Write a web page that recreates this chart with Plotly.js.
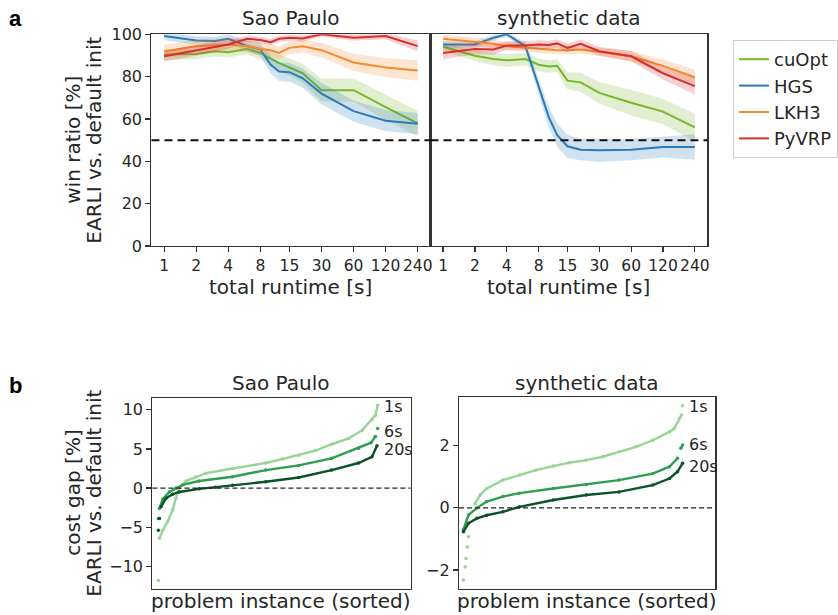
<!DOCTYPE html>
<html>
<head>
<meta charset="utf-8">
<script src="https://cdn.plot.ly/plotly-3.0.1.min.js"></script>
<style>html,body{margin:0;padding:0;background:#fff;}#chart{width:838px;height:615px;}</style>
</head>
<body>
<div id="chart"></div>
<script>
// ---------- Panel a: win ratio vs total runtime ----------
const runtimes = [1, 2, 3, 4, 6, 8, 10, 12, 15, 20, 30, 60, 120, 240];
const tickRuntimes = [1, 2, 4, 8, 15, 30, 60, 120, 240];
const solvers = ["cuOpt", "HGS", "LKH3", "PyVRP"];

// Sao Paulo means and band half-widths
const spCuOpt    = [90.4, 90.7, 92.0, 91.5, 93.1, 91.2, 88.5, 86.4, 84.3, 81.6, 73.6, 73.6, 65.6, 57.9];
const spCuOptErr = [2.5, 2.5, 2.5, 2.5, 2.5, 3, 3.5, 4, 4, 4.5, 5.5, 5.5, 6, 6];
const spHGS      = [99.2, 97.1, 96.8, 97.9, 94.5, 92.8, 85.6, 82.4, 82.1, 79.2, 72.0, 63.7, 59.2, 57.8];
const spHGSErr   = [2, 2, 2, 2, 2.5, 3, 4, 4.5, 4.5, 4.5, 5, 5, 5, 5];
const spLKH3     = [92.0, 94.4, 94.8, 95.2, 94.4, 93.1, 92.5, 91.2, 93.6, 94.4, 92.5, 86.7, 84.3, 82.9];
const spLKH3Err  = [3, 3, 3, 3, 3, 3, 3, 3, 3, 3, 3.5, 4, 4.5, 4.8];
const spPyVRP    = [89.6, 92.5, 94.0, 95.2, 97.9, 97.3, 96.3, 97.9, 98.4, 98.0, 100, 98.4, 99.2, 94.4];
const spPyVRPErr = [2.5, 2.5, 2.5, 2, 1.5, 1.5, 1.5, 1.5, 1.5, 1.5, 1, 1.5, 1.5, 2.5];

// Synthetic data means and band half-widths
const syCuOpt    = [94.1, 89.9, 88.3, 87.7, 88.3, 85.6, 84.8, 85.1, 78.1, 77.3, 72.3, 67.7, 63.5, 56.0];
const syCuOptErr = [2, 2.5, 3, 3, 3, 3, 3, 3, 4, 4.5, 5, 6, 6, 6.5];
const syHGS      = [95.2, 95.2, 98.4, 100, 94.4, 75.2, 60.8, 52.4, 47.1, 45.5, 45.2, 45.5, 46.8, 46.8];
const syHGSErr   = [1.5, 1.5, 1.5, 1, 2, 4, 5, 5.5, 5.5, 5, 5.5, 5, 5, 6];
const syLKH3     = [97.9, 96.3, 95.5, 94.4, 93.6, 93.2, 92.8, 92.5, 92.5, 92.8, 91.7, 89.6, 85.1, 79.7];
const syLKH3Err  = [2, 2, 2, 2, 2, 2, 2, 2, 2, 2, 2, 2.5, 3, 3.5];
const syPyVRP    = [91.2, 93.1, 92.8, 94.7, 94.7, 95.2, 95.0, 95.7, 93.6, 95.5, 92.0, 89.6, 81.6, 75.5];
const syPyVRPErr = [3, 2.5, 2.5, 2, 2, 2, 2, 2, 2, 2, 2, 2.5, 3, 4];

const solverColors = ["#76b82a", "#2b7bba", "#f58a2c", "#d62f2f"];
const solverFills  = ["rgba(118,184,42,0.22)", "rgba(43,123,186,0.22)", "rgba(245,138,44,0.22)", "rgba(214,47,47,0.22)"];

// ---------- Panel b: sorted cost gap (null = visible gap between isolated points) ----------
const budgetLabels = ["1s", "6s", "20s"];
const budgetColors = ["#98d594", "#2e9e52", "#0b5227"];

const spRank1  = [0, 0.003, 0.005, 0.02, 0.042, 0.065, 0.08, 0.095, 0.126, 0.17, 0.217, 0.338, 0.49, 0.565, 0.64, 0.717, 0.79, 0.868, 0.93, 0.974, 0.99, 1.0];
const spGap1   = [-11.8, null, -6.4, -5.4, -4.3, -2.8, -1.3, 0.0, 0.9, 1.4, 1.9, 2.5, 3.2, 3.7, 4.2, 4.8, 5.6, 6.35, 7.4, 8.7, 9.3, 10.6];
const spRank6  = [0, 0.003, 0.005, 0.02, 0.05, 0.08, 0.11, 0.186, 0.338, 0.49, 0.64, 0.79, 0.913, 0.97, 0.99, 0.995, 1.0];
const spGap6   = [-3.9, null, -2.6, -1.4, -0.5, 0.0, 0.4, 0.9, 1.45, 2.3, 2.9, 3.8, 5.1, 5.8, 6.6, null, 7.6];
const spRank20 = [0, 0.002, 0.005, 0.008, 0.012, 0.035, 0.065, 0.095, 0.186, 0.26, 0.338, 0.49, 0.64, 0.79, 0.913, 0.974, 0.997];
const spGap20  = [-5.4, null, -3.9, null, -2.4, -1.3, -0.8, -0.5, -0.1, 0.1, 0.35, 0.8, 1.35, 2.3, 3.2, 4.0, 5.4];

const syRank1  = [0, 0.004, 0.008, 0.01, 0.012, 0.015, 0.018, 0.02, 0.023, 0.04, 0.053, 0.076, 0.106, 0.18, 0.256, 0.33, 0.41, 0.485, 0.56, 0.636, 0.71, 0.788, 0.864, 0.94, 0.962, 0.985, 0.995, 0.997, 1.0];
const syGap1   = [-2.32, null, -1.9, null, -1.63, null, -1.26, null, -0.93, null, 0.13, 0.41, 0.62, 0.89, 1.05, 1.21, 1.34, 1.45, 1.53, 1.64, 1.8, 1.96, 2.17, 2.44, 2.55, 2.87, 2.98, null, 3.28];
const syRank6  = [0, 0.023, 0.061, 0.106, 0.18, 0.256, 0.41, 0.56, 0.71, 0.864, 0.94, 0.977, 0.985, 0.992, 1.0];
const syGap6   = [-0.7, -0.23, -0.01, 0.2, 0.36, 0.47, 0.62, 0.75, 0.89, 1.1, 1.32, 1.59, null, 1.91, 2.02];
const syRank20 = [0, 0.023, 0.061, 0.106, 0.18, 0.256, 0.41, 0.56, 0.71, 0.864, 0.94, 0.977, 1.0];
const syGap20  = [-0.77, -0.5, -0.34, -0.24, -0.13, 0.03, 0.25, 0.41, 0.51, 0.73, 0.94, 1.16, 1.43];

// label positions (value at which the budget label is written)
const spLabelY = [10.4, 7.2, 4.9];
const syLabelY = [3.25, 2.02, 1.34];

// ---------- build traces ----------
const FONT = "DejaVu Sans, Verdana, sans-serif";
const TXT = "#262626";
const traces = [];

function addSolver(xa, ya, means, errs, i, showLeg) {
  const lo = means.map((m, k) => m - errs[k]);
  const hi = means.map((m, k) => m + errs[k]);
  traces.push({x: runtimes, y: lo, xaxis: xa, yaxis: ya, mode: "lines", line: {width: 0, color: solverColors[i]},
               hoverinfo: "skip", showlegend: false});
  traces.push({x: runtimes, y: hi, xaxis: xa, yaxis: ya, mode: "lines", line: {width: 0, color: solverColors[i]},
               fill: "tonexty", fillcolor: solverFills[i], hoverinfo: "skip", showlegend: false});
  traces.push({x: runtimes, y: means, xaxis: xa, yaxis: ya, mode: "lines", name: solvers[i],
               line: {width: 2, color: solverColors[i]}, showlegend: showLeg, legendrank: i});
}
const spSets = [[spCuOpt, spCuOptErr], [spHGS, spHGSErr], [spLKH3, spLKH3Err], [spPyVRP, spPyVRPErr]];
const sySets = [[syCuOpt, syCuOptErr], [syHGS, syHGSErr], [syLKH3, syLKH3Err], [syPyVRP, syPyVRPErr]];
spSets.forEach((s, i) => addSolver("x", "y", s[0], s[1], i, true));
sySets.forEach((s, i) => addSolver("x2", "y2", s[0], s[1], i, false));

function addGap(xa, ya, xs, ys, i) {
  traces.push({x: xs, y: ys, xaxis: xa, yaxis: ya, mode: "lines+markers", connectgaps: false,
               line: {width: 2.4, color: budgetColors[i]}, marker: {size: 3.5, color: budgetColors[i]},
               showlegend: false, hoverinfo: "skip"});
}
addGap("x3", "y3", spRank1, spGap1, 0);
addGap("x3", "y3", spRank6, spGap6, 1);
addGap("x3", "y3", spRank20, spGap20, 2);
addGap("x4", "y4", syRank1, syGap1, 0);
addGap("x4", "y4", syRank6, syGap6, 1);
addGap("x4", "y4", syRank20, syGap20, 2);

// ---------- layout ----------
const W = 838, H = 615;
const px = v => v / W, py = v => 1 - v / H;
const lineCol = "#333";
const common = {showline: true, mirror: true, linecolor: lineCol, linewidth: 1.2, showgrid: false, zeroline: false,
                tickfont: {family: FONT, size: 16, color: TXT}, tickcolor: lineCol, ticklen: 5, tickwidth: 1.2, tickangle: 0};
const logX = Object.assign({}, common, {type: "log", range: [Math.log10(0.76), Math.log10(316)],
                tickvals: tickRuntimes, ticktext: tickRuntimes.map(String), ticks: "outside",
                tickfont: {family: FONT, size: 15.5, color: TXT}});

const layout = {
  width: W, height: H, margin: {l: 0, r: 0, t: 0, b: 0},
  paper_bgcolor: "#fff", plot_bgcolor: "#fff",
  font: {family: FONT, color: TXT},
  xaxis:  Object.assign({}, logX, {domain: [px(152), px(432)], anchor: "y"}),
  yaxis:  Object.assign({}, common, {domain: [py(246), py(34.3)], range: [0, 100], tickvals: [0, 20, 40, 60, 80, 100], ticks: "outside", anchor: "x"}),
  xaxis2: Object.assign({}, logX, {domain: [px(432), px(710)], anchor: "y2"}),
  yaxis2: Object.assign({}, common, {domain: [py(246), py(34.3)], range: [0, 100], showticklabels: false, ticks: "", anchor: "x2"}),
  xaxis3: Object.assign({}, common, {domain: [px(153), px(412)], range: [-0.027, 1.15], showticklabels: false, ticks: "", anchor: "y3"}),
  yaxis3: Object.assign({}, common, {domain: [py(589), py(397.7)], range: [-12.9, 11.55], tickvals: [-10, -5, 0, 5, 10], ticks: "outside", anchor: "x3"}),
  xaxis4: Object.assign({}, common, {domain: [px(460.7), px(718)], range: [-0.02, 1.15], showticklabels: false, ticks: "", anchor: "y4"}),
  yaxis4: Object.assign({}, common, {domain: [py(589), py(396.7)], range: [-2.61, 3.57], tickvals: [-2, 0, 2], ticks: "outside", anchor: "x4"}),
  showlegend: true,
  legend: {x: px(736), y: py(40), xanchor: "left", yanchor: "top", bgcolor: "#fff", bordercolor: "#d0d0d0", borderwidth: 1,
           font: {family: FONT, size: 18, color: TXT}, traceorder: "normal"},
  shapes: [
    {type: "line", xref: "x domain", yref: "y", x0: 0, x1: 1, y0: 50, y1: 50, line: {color: "#111", width: 2, dash: "8px,5px"}, layer: "above"},
    {type: "line", xref: "x2 domain", yref: "y2", x0: 0, x1: 1, y0: 50, y1: 50, line: {color: "#111", width: 2, dash: "8px,5px"}, layer: "above"},
    {type: "line", xref: "x3 domain", yref: "y3", x0: 0, x1: 1, y0: 0, y1: 0, line: {color: "#222", width: 1.2, dash: "5px,3px"}, layer: "above"},
    {type: "line", xref: "x4 domain", yref: "y4", x0: 0, x1: 1, y0: 0, y1: 0, line: {color: "#222", width: 1.2, dash: "5px,3px"}, layer: "above"}
  ],
  annotations: []
};

function paperText(text, x, y, size, opts) {
  layout.annotations.push(Object.assign({text: text, xref: "paper", yref: "paper", x: px(x), y: py(y),
    xanchor: "center", yanchor: "middle", showarrow: false, font: {family: FONT, size: size, color: TXT}}, opts || {}));
}
paperText("<b>a</b>", 16, 18, 21, {font: {family: "Liberation Sans, Arial, sans-serif", size: 22, color: "#000"}});
paperText("<b>b</b>", 16, 385, 21, {font: {family: "Liberation Sans, Arial, sans-serif", size: 22, color: "#000"}});
paperText("Sao Paulo", 292, 18, 20);
paperText("synthetic data", 571, 18, 20);
paperText("Sao Paulo", 282, 383, 20);
paperText("synthetic data", 589, 383, 20);
paperText("total runtime [s]", 292, 287, 20);
paperText("total runtime [s]", 571, 287, 20);
paperText("problem instance (sorted)", 282, 601, 20);
paperText("problem instance (sorted)", 589, 601, 20);
paperText("win ratio [%]", 73, 140, 20, {textangle: -90});
paperText("EARLI vs. default init", 94, 140, 20, {textangle: -90});
paperText("cost gap [%]", 73, 493, 20, {textangle: -90});
paperText("EARLI vs. default init", 94, 493, 20, {textangle: -90});

budgetLabels.forEach((lab, i) => {
  layout.annotations.push({text: lab, xref: "x3", yref: "y3", x: 1.02, y: spLabelY[i], xanchor: "left", yanchor: "middle",
    showarrow: false, font: {family: FONT, size: 16, color: TXT}});
  layout.annotations.push({text: lab, xref: "x4", yref: "y4", x: 1.02, y: syLabelY[i], xanchor: "left", yanchor: "middle",
    showarrow: false, font: {family: FONT, size: 16, color: TXT}});
});

Plotly.newPlot("chart", traces, layout, {displayModeBar: false, staticPlot: true});
</script>
</body>
</html>
